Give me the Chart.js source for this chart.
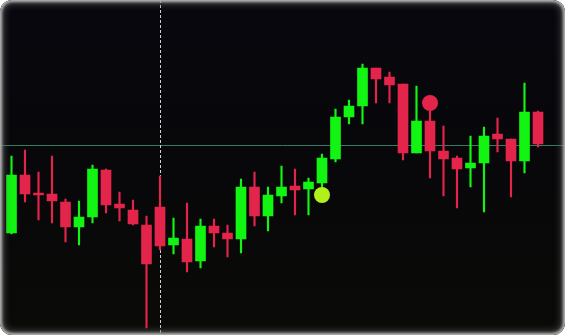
<!DOCTYPE html>
<html>
<head>
<meta charset="utf-8">
<script src="https://cdn.jsdelivr.net/npm/chart.js@4.4.0/dist/chart.umd.min.js"></script>
<style>
  html, body { margin: 0; padding: 0; background: #ffffff; }
  #wrap {
    position: relative; width: 565px; height: 335px; overflow: hidden;
    border-radius: 12px;
    background: linear-gradient(to bottom, #07070e 0%, #08080a 55%, #0a0a07 100%);
  }
  #chart { position: absolute; left: 0; top: 0; }
  #bezel {
    position: absolute; left: 0; top: 0; width: 565px; height: 335px;
    border-radius: 12px; pointer-events: none;
    box-shadow: inset 0 0 3px 2px #b8b8b8, inset 0 0 7px 4px rgba(90,90,90,0.7);
  }
</style>
</head>
<body>
<div id="wrap">
  <canvas id="chart" width="565" height="335"></canvas>
  <div id="bezel"></div>
</div>
<script>
// candle data
const labels = Array.from({ length: 40 }, (_, i) => String(i + 1));
const openVals  = [107,165,147,146,138,113,123,170,136,130,115,133, 95,101, 79,114,107,101,153,124,144,154,151,157,181,223,234,272,263,256,187,219,189,182,172,177,206,201,179,228];
const highVals  = [184,190,168,184,141,139,175,171,148,140,124,164,122,137,121,121,115,161,168,153,174,171,162,186,231,240,276,272,268,256,254,229,214,184,204,213,222,201,257,229];
const lowVals   = [106,138,120,117, 98, 95,117,127,119,115, 12, 90, 86, 68, 72, 93, 83, 87,114,109,137,125,125,153,178,216,216,237,237,180,187,162,144,132,153,128,188,143,167,193];
const closeVals = [165,146,145,139,113,123,171,135,132,116, 76, 94,102, 78,114,107,101,153,124,145,153,150,158,182,223,234,272,261,255,187,219,189,181,171,177,204,201,179,228,196];

// markers and guide lines
const markerIdx = [23, 31];
const markerVals = [145, 237];
const markerColors = ['#b2f01c', '#e3244b'];
const hLineValue = 195;
const vLineIndex = 11;

const UP = '#12f512';
const DOWN = '#e3244b';

const bodies = openVals.map((o, i) => [o, closeVals[i]]);
const wicks = lowVals.map((l, i) => [l, highVals[i]]);
const colors = openVals.map((o, i) => closeVals[i] >= o ? UP : DOWN);

const markerData = labels.map(() => null);
const markerBg = labels.map(() => 'transparent');
markerIdx.forEach((idx, k) => {
    markerData[idx] = markerVals[k];
    markerBg[idx] = markerColors[k];
});

// guide lines drawn behind the candles
const guides = {
    id: 'guides',
    beforeDatasetsDraw(chart) {
        const { ctx, scales } = chart;
        const y = Math.round(scales.y.getPixelForValue(hLineValue)) + 0.5;
        const x = Math.round(scales.x.getPixelForValue(vLineIndex)) + 0.5;
        ctx.save();
        ctx.strokeStyle = '#3a7a60';
        ctx.lineWidth = 1;
        ctx.beginPath();
        ctx.moveTo(0, y);
        ctx.lineTo(chart.width, y);
        ctx.stroke();
        ctx.strokeStyle = 'rgba(230,230,230,0.9)';
        ctx.setLineDash([3, 2]);
        ctx.beginPath();
        ctx.moveTo(x, 0);
        ctx.lineTo(x, chart.height);
        ctx.stroke();
        ctx.restore();
    }
};

new Chart(document.getElementById('chart'), {
    type: 'bar',
    data: {
        labels: labels,
        datasets: [
            {
                data: wicks,
                backgroundColor: colors,
                barThickness: 1.5,
                grouped: false,
                order: 2
            },
            {
                data: bodies,
                backgroundColor: colors,
                barThickness: 10,
                minBarLength: 2,
                grouped: false,
                order: 1
            },
            {
                type: 'line',
                data: markerData,
                showLine: false,
                pointRadius: 8,
                pointBorderWidth: 0,
                pointBackgroundColor: markerBg,
                order: 0
            }
        ]
    },
    options: {
        responsive: false,
        animation: false,
        layout: { autoPadding: false, padding: { left: 4.75, right: 20.25, top: 0, bottom: 0 } },
        plugins: { legend: { display: false }, tooltip: { enabled: false } },
        scales: {
            x: { display: false, offset: true },
            y: { display: false, min: 5, max: 340 }
        }
    },
    plugins: [guides]
});
</script>
</body>
</html>
